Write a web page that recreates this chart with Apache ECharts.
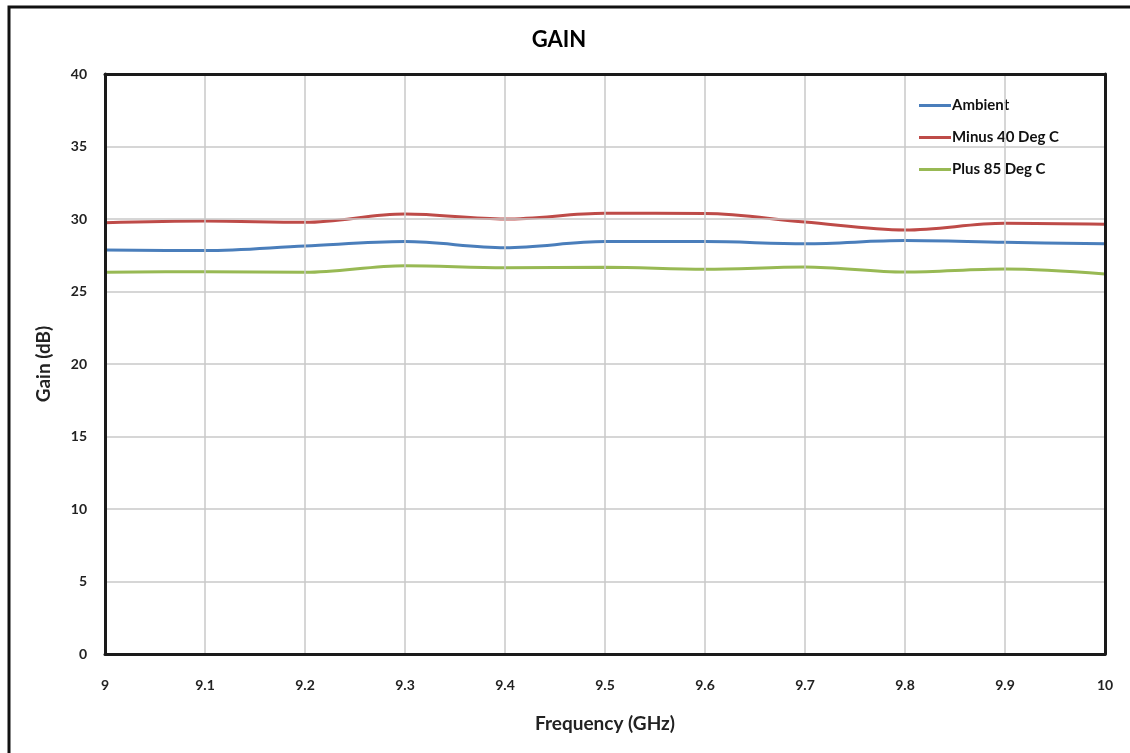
<!DOCTYPE html>
<html>
<head>
<meta charset="utf-8">
<script src="https://cdn.jsdelivr.net/npm/echarts@6/dist/echarts.min.js"></script>
<style>
html,body{margin:0;padding:0;background:#fff;}
#chart{width:1130px;height:753px;}
</style>
</head>
<body>
<div id="chart"></div>
<script>
const frequencies = [9.0, 9.1, 9.2, 9.3, 9.4, 9.5, 9.6, 9.7, 9.8, 9.9, 10.0];
const ambient   = [27.86, 27.82, 28.14, 28.44, 28.02, 28.44, 28.44, 28.30, 28.51, 28.39, 28.30];
const minus40   = [29.74, 29.86, 29.77, 30.34, 30.00, 30.39, 30.38, 29.79, 29.24, 29.70, 29.63];
const plus85    = [26.32, 26.37, 26.32, 26.78, 26.64, 26.67, 26.53, 26.69, 26.34, 26.55, 26.21];
const seriesNames = ['Ambient', 'Minus 40 Deg C', 'Plus 85 Deg C'];
const seriesColors = ['#4a7ebb', '#be4b48', '#98b954'];

const FONT = 'Lato, "Open Sans", sans-serif';
const chart = echarts.init(document.getElementById('chart'));
const pair = arr => frequencies.map((f, i) => [f, arr[i]]);
const allData = [ambient, minus40, plus85];
const frameLine = { show: true, onZero: false, lineStyle: { color: '#1a1a1a', width: 3 } };

chart.setOption({
  animation: false,
  backgroundColor: '#fff',
  title: {
    text: 'GAIN', left: 554, top: 24, textAlign: 'center',
    textStyle: { fontFamily: FONT, fontSize: 22, fontWeight: 'bold', color: '#000' }
  },
  graphic: [{
    type: 'rect', shape: { x: 9, y: 7, width: 1200, height: 800 },
    style: { fill: 'none', stroke: '#111', lineWidth: 3 }, silent: true
  }],
  legend: {
    orient: 'vertical', left: 914, top: 93, itemGap: 17,
    itemWidth: 32, itemHeight: 3, icon: 'rect',
    textStyle: { fontFamily: FONT, fontSize: 15, fontWeight: 'bold', color: '#111', padding: [0,0,0,-4] },
    data: seriesNames
  },
  grid: {
    left: 105, top: 74, right: 1130 - 1105, bottom: 753 - 654,
    show: false, containLabel: false
  },
  xAxis: [{
    type: 'value', min: 9, max: 10, interval: 0.1,
    name: 'Frequency (GHz)', nameLocation: 'middle', nameGap: 60,
    nameTextStyle: { fontFamily: FONT, fontSize: 19, fontWeight: 'bold', color: '#222' },
    axisLine: frameLine, axisTick: { show: false },
    axisLabel: { margin: 24, fontFamily: FONT, fontSize: 14, fontWeight: 'bold', color: '#222',
      formatter: v => String(+v.toFixed(1)) },
    splitLine: { show: true, lineStyle: { color: '#c8c8c8', width: 1.5 } },
    z: 5
  }, {
    type: 'value', min: 9, max: 10, position: 'top',
    axisLine: frameLine, axisTick: { show: false }, axisLabel: { show: false },
    splitLine: { show: false }, z: 5
  }],
  yAxis: [{
    type: 'value', min: 0, max: 40, interval: 5,
    name: 'Gain (dB)', nameLocation: 'middle', nameGap: 52,
    nameTextStyle: { fontFamily: FONT, fontSize: 19, fontWeight: 'bold', color: '#222' },
    axisLine: frameLine, axisTick: { show: false },
    axisLabel: { margin: 18, fontFamily: FONT, fontSize: 14, fontWeight: 'bold', color: '#222' },
    splitLine: { show: true, lineStyle: { color: '#c8c8c8', width: 1.5 } },
    z: 5
  }, {
    type: 'value', min: 0, max: 40, position: 'right',
    axisLine: frameLine, axisTick: { show: false }, axisLabel: { show: false },
    splitLine: { show: false }, z: 5
  }],
  series: seriesNames.map((name, k) => ({
    name, type: 'line', smooth: 0.35, showSymbol: false, symbol: 'none',
    data: pair(allData[k]),
    lineStyle: { color: seriesColors[k], width: 3 },
    itemStyle: { color: seriesColors[k] }
  }))
});
</script>
</body>
</html>
